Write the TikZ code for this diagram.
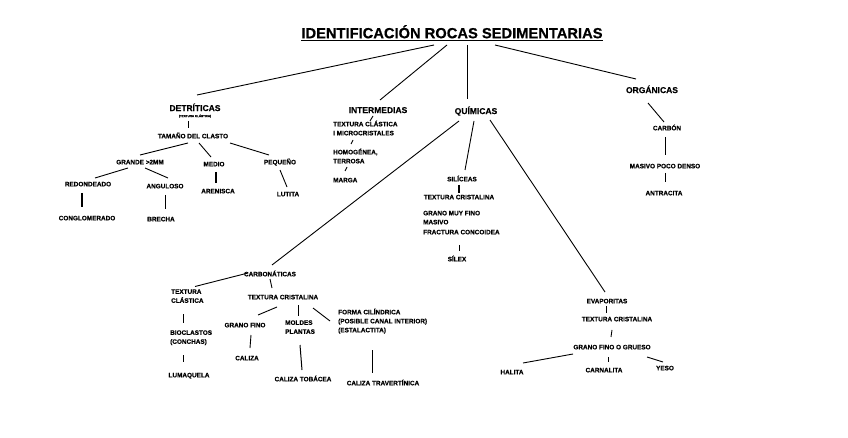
\documentclass[tikz,border=0pt]{standalone}
\usepackage{fontspec}
\setmainfont{Liberation Sans}[BoldFeatures={FakeBold=0.4}]
\usetikzlibrary{calc}
\begin{document}
\begin{tikzpicture}[x=1pt,y=-1pt,
  small/.style={inner sep=0pt, text height=4.6pt, text depth=0pt, font=\bfseries\fontsize{6.4}{9}\selectfont},
  big/.style={inner sep=0pt, text height=6.1pt, text depth=0pt, font=\bfseries\fontsize{8.5}{10}\selectfont},
  tinytxt/.style={inner sep=0pt, text height=2.2pt, text depth=0pt, font=\bfseries\fontsize{3}{3.5}\selectfont},
  titletxt/.style={inner sep=0pt, text height=10.5pt, text depth=0pt, font=\bfseries\fontsize{14.7}{16}\selectfont},
  lft/.style={small, anchor=west, align=left},
  conn/.style={line width=0.9pt},
  thick/.style={line width=1.5pt}
]
\useasboundingbox[fill=white] (0,0) rectangle (848,438);

% Title
\node[titletxt] (title) at (452,33) {IDENTIFICACIÓN ROCAS SEDIMENTARIAS};
\draw[line width=1.2pt] ($(title.south west)+(0,2.4)$) -- ($(title.south east)+(0,2.4)$);

% Main groups
\node[big] (det) at (195,108) {DETRÍTICAS};
\node[tinytxt] (detsub) at (195,116) {(TEXTURA CLÁSTICA)};
\node[big] (int) at (378,110) {INTERMEDIAS};
\node[big] (qui) at (476,111) {QUÍMICAS};
\node[big] (org) at (652,90) {ORGÁNICAS};

\draw[conn] ($(title)+(-18,12)$) -- ($(det)+(2,-13)$);
\draw[conn] ($(title)+(-5,12)$) -- ($(int)+(2,-10)$);
\draw[conn] ($(title)+(15,12)$) -- ($(qui)+(-9,-12)$);
\draw[conn] ($(title)+(43,12)$) -- ($(org)+(-16,-11)$);

% Detriticas
\node[small] (tam) at (193,136) {TAMAÑO DEL CLASTO};
\node[small] (gra) at (140,162) {GRANDE >2MM};
\node[small] (med) at (214,164) {MEDIO};
\node[small] (peq) at (280,162) {PEQUEÑO};
\node[small] (red) at (88,184) {REDONDEADO};
\node[small] (ang) at (165,186) {ANGULOSO};
\node[small] (are) at (218,191) {ARENISCA};
\node[small] (lut) at (288,194) {LUTITA};
\node[small] (con) at (87,218) {CONGLOMERADO};
\node[small] (bre) at (161,219) {BRECHA};

\draw[conn] ($(detsub)+(-7,5)$) -- ($(tam)+(-5,-8)$);
\draw[conn] ($(tam)+(-5,7)$) -- ($(gra)+(0,-7)$);
\draw[conn] ($(tam)+(6,7)$) -- ($(med)+(-3,-7)$);
\draw[conn] ($(tam)+(37,7)$) -- ($(peq)+(-11,-7)$);
\draw[conn] ($(gra)+(-12,6)$) -- ($(red)+(7,-6)$);
\draw[conn] ($(gra)+(5,6)$) -- ($(ang)+(3,-8)$);
\draw[thick] ($(med)+(2,8)$) -- ($(are)+(-2,-8)$);
\draw[conn] ($(peq)+(0,8)$) -- ($(lut)+(-1,-7)$);
\draw[thick] ($(red)+(-6,9)$) -- ($(con)+(-5,-11)$);
\draw[conn] ($(ang)+(0,9)$) -- ($(bre)+(4,-10)$);

% Intermedias
\node[lft] (itex) at (333,124) {TEXTURA CLÁSTICA};
\node[lft] (imic) at (333,133) {I MICROCRISTALES};
\node[lft] (ihom) at (333,152) {HOMOGÉNEA,};
\node[lft] (iter) at (333,161) {TERROSA};
\node[lft] (imar) at (333,180) {MARGA};

\draw[conn] ($(itex.west)+(37,-3)$) -- ($(int)+(-5,6)$);
\draw[conn] ($(ihom.west)+(18,-8)$) -- ($(imic.west)+(20,7)$);
\draw[conn] ($(imar.west)+(12,-9)$) -- ($(iter.west)+(14,6)$);

% Quimicas
\node[small] (sil) at (462,179) {SILÍCEAS};
\node[small] (stex) at (459,197) {TEXTURA CRISTALINA};
\node[lft] (sgr) at (423,213) {GRANO MUY FINO};
\node[lft] (smas) at (423,222) {MASIVO};
\node[lft] (sfra) at (423,232) {FRACTURA CONCOIDEA};
\node[small] (silex) at (457,259) {SÍLEX};

\draw[conn] ($(qui)+(-2,10)$) -- ($(sil)+(3,-9)$);
\draw[thick] ($(sil)+(-3,6)$) -- ($(stex)+(0,-4)$);
\draw[conn] ($(sfra.west)+(36,13)$) -- ($(silex)+(2,-8)$);

% Organicas
\node[small] (carb) at (667,128) {CARBÓN};
\node[small] (mas) at (665,166) {MASIVO POCO DENSO};
\node[small] (ant) at (664,193) {ANTRACITA};

\draw[conn] ($(org)+(-4,13)$) -- ($(carb)+(-3,-6)$);
\draw[conn] ($(carb)+(-2,9)$) -- ($(mas)+(0,-11)$);
\draw[conn] ($(mas)+(0,7)$) -- ($(ant)+(1,-11)$);

% Carbonaticas
\node[small] (cbt) at (270,274) {CARBONÁTICAS};
\node[lft] (tcl) at (171,300.5) {TEXTURA\\CLÁSTICA};
\node[small] (tcr) at (283,297) {TEXTURA CRISTALINA};
\node[small] (gfi) at (245,325) {GRANO FINO};
\node[lft] (mol) at (285,331.5) {MOLDES\\PLANTAS};
\node[lft] (for) at (338,330) {FORMA CILÍNDRICA\\(POSIBLE CANAL INTERIOR)\\(ESTALACTITA)};
\node[lft] (bio) at (170,341.5) {BIOCLASTOS\\(CONCHAS)};
\node[small] (lum) at (189,375) {LUMAQUELA};
\node[small] (cal) at (247,358) {CALIZA};
\node[small] (ctob) at (303,379) {CALIZA TOBÁCEA};
\node[small] (ctra) at (383,383) {CALIZA TRAVERTÍNICA};

\draw[conn] ($(qui)+(-17,10)$) -- ($(cbt)+(2,-9)$);
\draw[conn] ($(cbt)+(-22,-1)$) -- ($(tcl.west)+(24,-14)$);
\draw[conn] ($(cbt)+(0,5)$) -- ($(tcr)+(-11,-9)$);
\draw[conn] ($(tcr)+(-6,10)$) -- ($(gfi)+(13,-10)$);
\draw[conn] ($(tcr)+(15,8)$) -- ($(mol.west)+(13,-15.5)$);
\draw[conn] ($(tcr)+(30,11)$) -- ($(for.west)+(-8,-9)$);
\draw[conn] ($(tcl.west)+(12,13.5)$) -- ($(bio.west)+(13,-18.5)$);
\draw[conn] ($(bio.west)+(13,13.5)$) -- ($(lum)+(-6,-13)$);
\draw[conn] ($(gfi)+(6,10)$) -- ($(cal)+(3,-10)$);
\draw[line width=1pt] ($(mol.west)+(15,13.5)$) -- ($(ctob)+(-1,-9)$);
\draw[line width=1pt] ($(for.west)+(34,20)$) -- ($(ctra)+(-11,-10)$);

% Evaporitas
\node[small] (eva) at (607,301) {EVAPORITAS};
\node[small] (etex) at (617,319) {TEXTURA CRISTALINA};
\node[small] (egr) at (612,347) {GRANO FINO O GRUESO};
\node[small] (hal) at (512,372) {HALITA};
\node[small] (carn) at (604,370) {CARNALITA};
\node[small] (yeso) at (665,368) {YESO};

\draw[conn] ($(qui)+(14,9)$) -- ($(eva)+(-2,-9)$);
\draw[conn] ($(eva)+(-1,5)$) -- ($(etex)+(-11,-6)$);
\draw[conn] ($(etex)+(-5,11)$) -- ($(egr)+(-1,-10)$);
\draw[conn] ($(egr)+(-39,7)$) -- ($(hal)+(11,-9)$);
\draw[conn] ($(egr)+(-4,10)$) -- ($(carn)+(4,-8)$);
\draw[conn] ($(egr)+(35,10)$) -- ($(yeso)+(-2,-6)$);
\end{tikzpicture}
\end{document}
